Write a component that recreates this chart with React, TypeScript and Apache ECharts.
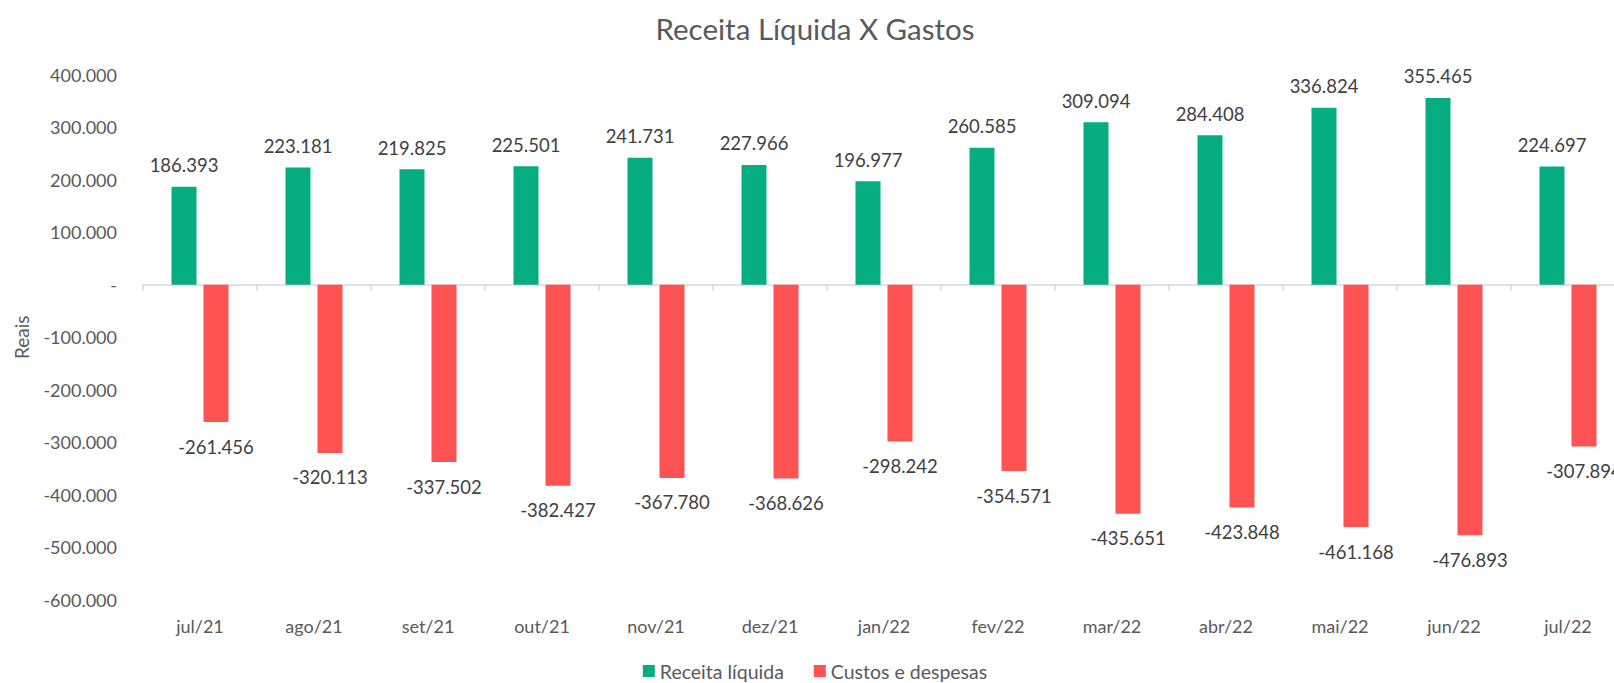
import React, { useEffect, useRef } from "react";
import * as echarts from "echarts";

const months = ["jul/21", "ago/21", "set/21", "out/21", "nov/21", "dez/21", "jan/22", "fev/22", "mar/22", "abr/22", "mai/22", "jun/22", "jul/22"];
const receita = [186393, 223181, 219825, 225501, 241731, 227966, 196977, 260585, 309094, 284408, 336824, 355465, 224697];
const custos = [-261456, -320113, -337502, -382427, -367780, -368626, -298242, -354571, -435651, -423848, -461168, -476893, -307894];

const FONT = "Lato";

function fmt(n: number): string {
  if (n === 0) return "-";
  const s = Math.abs(Math.round(n)).toString().replace(/\B(?=(\d{3})+(?!\d))/g, ".");
  return (n < 0 ? "-" : "") + s;
}

export default function App() {
  const ref = useRef<HTMLDivElement>(null);
  useEffect(() => {
    if (!ref.current) return;
    const chart = echarts.init(ref.current, undefined, { renderer: "svg" });
    chart.setOption({
      animation: false,
      backgroundColor: "#ffffff",
      textStyle: { fontFamily: FONT },
      title: {
        text: "Receita Líquida X Gastos",
        left: "center",
        top: 8,
        textStyle: { fontFamily: FONT, fontSize: 29.5, fontWeight: "normal", color: "#595959" },
      },
      legend: {
        bottom: -3,
        left: "center",
        icon: "rect",
        itemWidth: 12,
        itemHeight: 12,
        itemGap: 30,
        textStyle: { fontFamily: FONT, fontSize: 19.5, color: "#595959" },
        data: ["Receita líquida", "Custos e despesas"],
      },
      grid: { left: 143, right: 5, top: 74.5, bottom: 83, containLabel: false },
      xAxis: [
        {
          type: "category",
          data: months,
          position: "bottom",
          axisLine: { show: true, onZero: true, lineStyle: { color: "#D9D9D9", width: 1.5 } },
          axisTick: { show: true, length: 6, interval: 0, lineStyle: { color: "#D9D9D9", width: 1.5 } },
          axisLabel: { show: false },
          splitLine: { show: false },
        },
        {
          type: "category",
          data: months,
          position: "bottom",
          axisLine: { show: false, onZero: false },
          axisTick: { show: false },
          axisLabel: { show: true, margin: 17, interval: 0, fontFamily: FONT, fontSize: 18, color: "#595959" },
          splitLine: { show: false },
        },
      ],
      yAxis: {
        type: "value",
        min: -600000,
        max: 400000,
        interval: 100000,
        name: "Reais",
        nameLocation: "middle",
        nameGap: 112,
        nameTextStyle: { fontFamily: FONT, fontSize: 19, color: "#595959" },
        axisLine: { show: false },
        axisTick: { show: false },
        splitLine: { show: false },
        axisLabel: { margin: 26, fontFamily: FONT, fontSize: 18, color: "#595959", formatter: (v: number) => fmt(v) },
      },
      series: [
        {
          name: "Receita líquida",
          type: "bar",
          xAxisIndex: 0,
          data: receita,
          barWidth: 25,
          barGap: "28%",
          itemStyle: { color: "#05AD80" },
          label: {
            show: true,
            position: "top",
            distance: 12,
            fontFamily: FONT,
            fontSize: 18.5,
            color: "#404040",
            formatter: (p: any) => fmt(p.value),
          },
        },
        {
          name: "Custos e despesas",
          type: "bar",
          xAxisIndex: 0,
          data: custos,
          barWidth: 25,
          barGap: "28%",
          itemStyle: { color: "#FF5252" },
          label: {
            show: true,
            position: "bottom",
            distance: 15,
            fontFamily: FONT,
            fontSize: 18.5,
            color: "#404040",
            formatter: (p: any) => fmt(p.value),
          },
        },
      ],
    });
    return () => chart.dispose();
  }, []);
  return (
    <div style={{ position: "fixed", left: 0, top: 0, width: "100vw", height: "100vh", overflow: "hidden", background: "#fff" }}>
      <div ref={ref} style={{ width: 1630, height: 683 }} />
    </div>
  );
}
